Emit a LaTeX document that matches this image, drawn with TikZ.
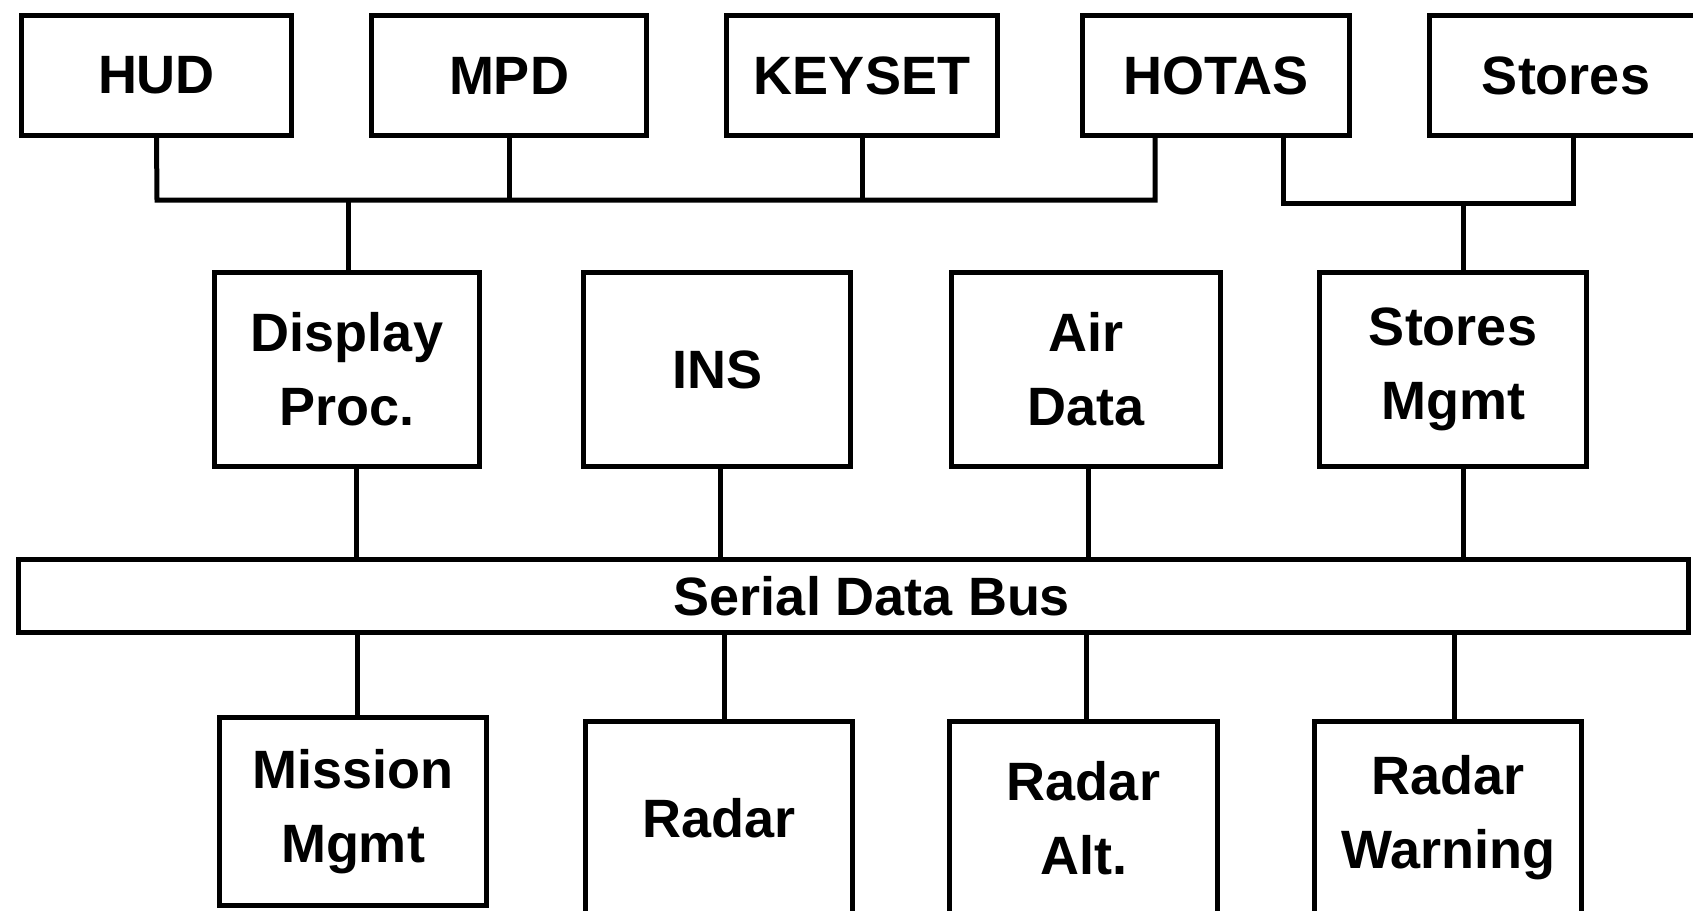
\documentclass[tikz,border=0pt]{standalone}
\usepackage{fontspec}
\setmainfont{Liberation Sans}
\begin{document}
\begin{tikzpicture}[x=1pt,y=-1pt,
  lbl/.style={font=\fontsize{54}{74}\selectfont\bfseries, align=center, inner sep=0pt},
  box/.style={draw, line width=5pt, line join=miter, inner sep=0pt, lbl},
  conn/.style={line width=5pt, line join=miter}]
\useasboundingbox (0,0) rectangle (1693,910);
\clip (0,0) rectangle (1693,910);
% top row
\node[box, minimum width=270, minimum height=120] (hud) at (156.5,75.5) {HUD};
\node[box, minimum width=275, minimum height=120] (mpd) at (509,75.5) {MPD};
\node[box, minimum width=271, minimum height=120] (keyset) at (862,75.5) {KEYSET};
\node[box, minimum width=267, minimum height=120] (hotas) at (1216,75.5) {HOTAS};
\node[box, minimum width=274, minimum height=120] (stores) at (1566,75.5) {Stores};
% middle row
\node[box, minimum width=265, minimum height=194] (disp) at (347,369.5) {Display\\Proc.};
\node[box, minimum width=267, minimum height=194] (ins) at (717,369.5) {INS};
\node[box, minimum width=269, minimum height=194] (air) at (1086,369.5) {Air\\Data};
\node[box, minimum width=267, minimum height=194] (smgmt) at (1453,369.5) {Stores\\Mgmt};
% bus
\node[draw, line width=5pt, minimum width=1670, minimum height=73, inner sep=0pt] (bus) at (853,596) {};
\node[lbl] (bustxt) at (872,596) {Serial Data Bus};
% bottom row
\node[box, minimum width=267, minimum height=188] (mission) at (353,811.5) {Mission\\Mgmt};
\node[box, minimum width=267, minimum height=194] (radar) at (719,818) {Radar};
\node[box, minimum width=268, minimum height=194] (ralt) at (1083.5,818) {Radar\\Alt.};
\node[box, minimum width=267, minimum height=194] (rwarn) at (1448,818) {Radar\\Warning};
% top bars
\coordinate (barL) at (157,200);
\coordinate (barR) at (1155,200);
\coordinate (bar2L) at (1283,203);
\coordinate (bar2R) at (1573,203);
\coordinate (smx) at (1463,203);
\draw[conn] (hud.south) -- (barL) -- (barR) -- (barR |- hotas.south);
\draw[conn] (mpd.south) -- (mpd.south |- barL);
\draw[conn] (keyset.south) -- (keyset.south |- barL);
\draw[conn] ([xshift=1pt]disp.north) -- ([xshift=1pt]disp.north |- barL);
\draw[conn] (bar2L |- hotas.south) -- (bar2L) -- (bar2R) -- (bar2R |- stores.south);
\draw[conn] (smx) -- (smx |- smgmt.north);
% to bus
\draw[conn] ([xshift=9pt]disp.south) -- ([xshift=9pt]disp.south |- bus.north);
\draw[conn] ([xshift=3pt]ins.south) -- ([xshift=3pt]ins.south |- bus.north);
\draw[conn] ([xshift=2pt]air.south) -- ([xshift=2pt]air.south |- bus.north);
\draw[conn] ([xshift=10pt]smgmt.south) -- ([xshift=10pt]smgmt.south |- bus.north);
\draw[conn] ([xshift=4pt]mission.north) -- ([xshift=4pt]mission.north |- bus.south);
\draw[conn] ([xshift=5pt]radar.north) -- ([xshift=5pt]radar.north |- bus.south);
\draw[conn] ([xshift=3pt]ralt.north) -- ([xshift=3pt]ralt.north |- bus.south);
\draw[conn] ([xshift=6pt]rwarn.north) -- ([xshift=6pt]rwarn.north |- bus.south);
\end{tikzpicture}
\end{document}
